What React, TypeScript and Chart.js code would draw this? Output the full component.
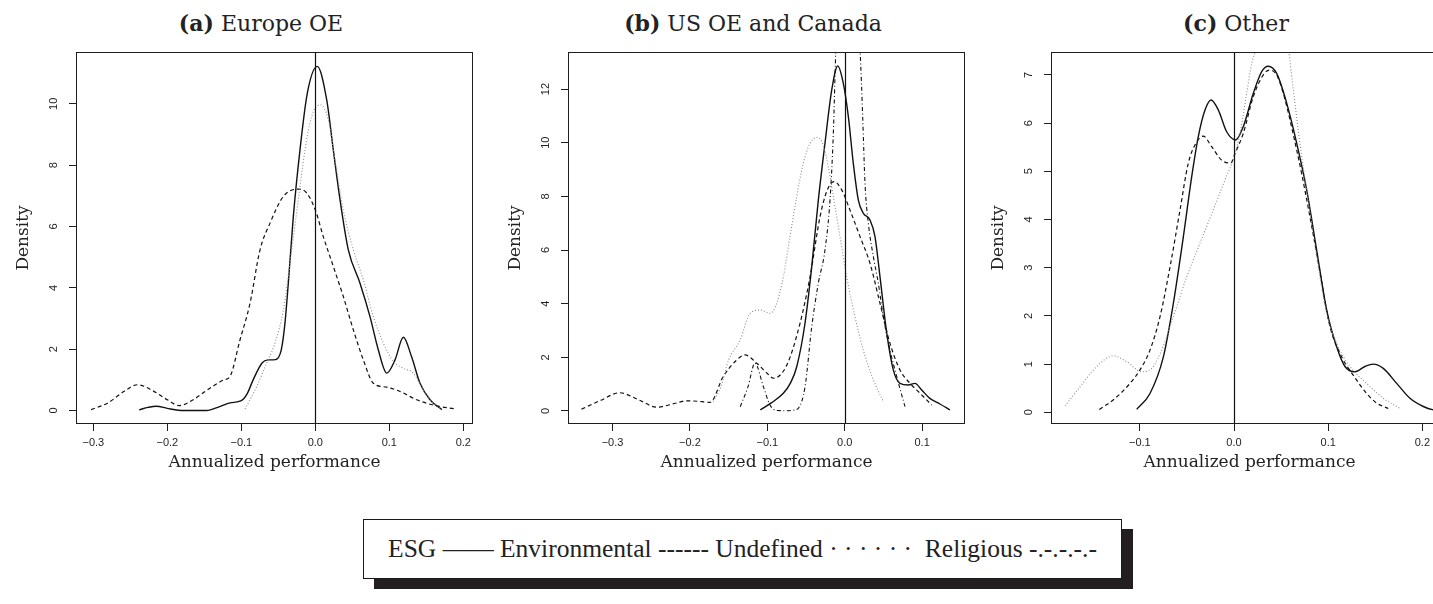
import React, { useEffect, useRef } from "react";
import { Chart, registerables } from "chart.js";

Chart.register(...registerables);

// ---------- tick values ----------
const A_X_TICKS = [-0.3, -0.2, -0.1, 0, 0.1, 0.2];
const A_Y_TICKS = [0, 2, 4, 6, 8, 10];
const B_X_TICKS = [-0.3, -0.2, -0.1, 0, 0.1];
const B_Y_TICKS = [0, 2, 4, 6, 8, 10, 12];
const C_X_TICKS = [-0.1, 0, 0.1, 0.2];
const C_Y_TICKS = [0, 1, 2, 3, 4, 5, 6, 7];

const REF_X = 0; // vertical reference line

// ---------- (a) Europe OE ----------
const A_ESG_X = [-0.238, -0.226, -0.215, -0.2, -0.185, -0.165, -0.147, -0.13, -0.115, -0.1, -0.092, -0.084, -0.072, -0.064, -0.054, -0.046, -0.041, -0.0365, -0.0297, -0.0207, -0.0108, 0.0027, 0.0154, 0.0243, 0.0334, 0.0446, 0.0604, 0.0739, 0.0851, 0.0965, 0.1077, 0.119, 0.13, 0.1415, 0.155, 0.171];
const A_ESG_Y = [0.02, 0.1, 0.14, 0.07, 0.01, 0.0, 0.0, 0.12, 0.25, 0.32, 0.55, 1.0, 1.55, 1.65, 1.66, 1.98, 2.85, 4.15, 6.33, 8.5, 10.35, 11.22, 10.13, 8.5, 6.87, 5.24, 4.15, 3.06, 1.98, 1.22, 1.65, 2.39, 1.76, 0.89, 0.35, 0.03];
const A_ENV_X = [-0.303, -0.28, -0.26, -0.24, -0.22, -0.2, -0.184, -0.165, -0.149, -0.1234, -0.1153, -0.1018, -0.0882, -0.0747, -0.0612, -0.0432, -0.023, -0.0116, 0.0, 0.0108, 0.0243, 0.0378, 0.0514, 0.0649, 0.0784, 0.0965, 0.1145, 0.137, 0.164, 0.19];
const A_ENV_Y = [0.03, 0.25, 0.6, 0.84, 0.65, 0.35, 0.16, 0.35, 0.62, 1.0, 1.11, 2.3, 3.5, 5.24, 6.11, 6.98, 7.22, 7.09, 6.54, 5.67, 4.7, 3.72, 2.63, 1.65, 0.89, 0.76, 0.62, 0.35, 0.15, 0.05];
const A_UND_X = [-0.095, -0.0793, -0.0657, -0.0545, -0.0432, -0.0319, -0.023, -0.0139, -0.0049, 0.0064, 0.0176, 0.0266, 0.0378, 0.0514, 0.0649, 0.0784, 0.0919, 0.1054, 0.1189, 0.1324, 0.146, 0.1595, 0.171];
const A_UND_Y = [0.05, 0.78, 1.55, 2.2, 3.28, 5.24, 6.87, 8.5, 9.59, 9.97, 9.48, 8.17, 6.54, 5.24, 4.26, 3.06, 2.2, 1.6, 1.38, 1.22, 0.67, 0.24, 0.06];

// ---------- (b) US OE and Canada ----------
const B_ESG_X = [-0.109, -0.095, -0.0793, -0.07, -0.062, -0.0513, -0.0426, -0.0341, -0.0255, -0.0168, -0.009, -0.0018, 0.0047, 0.0111, 0.0176, 0.024, 0.0327, 0.0391, 0.0456, 0.0543, 0.0628, 0.0714, 0.0822, 0.0908, 0.0995, 0.11, 0.123, 0.136];
const B_ESG_Y = [0.04, 0.3, 0.66, 1.05, 1.65, 3.27, 5.38, 7.86, 9.98, 11.96, 12.86, 12.21, 10.97, 9.23, 7.86, 7.37, 7.12, 6.5, 5.0, 2.9, 1.53, 1.03, 0.97, 1.03, 0.78, 0.47, 0.26, 0.04];
const B_ENV_X = [-0.34, -0.315, -0.291, -0.265, -0.243, -0.22, -0.204, -0.185, -0.174, -0.157, -0.1395, -0.1288, -0.1137, -0.1, -0.0922, -0.075, -0.0577, -0.0448, -0.0319, -0.0225, -0.0138, -0.0039, 0.0068, 0.0198, 0.0327, 0.0456, 0.0585, 0.0714, 0.0843, 0.0973, 0.1124];
const B_ENV_Y = [0.07, 0.4, 0.68, 0.4, 0.14, 0.28, 0.38, 0.35, 0.32, 1.28, 1.9, 2.09, 1.78, 1.4, 1.22, 1.7, 3.27, 5.0, 7.24, 8.24, 8.55, 8.24, 7.49, 6.5, 5.5, 4.01, 2.52, 1.53, 1.03, 0.66, 0.22];
const B_UND_X = [-0.17, -0.16, -0.15, -0.135, -0.1223, -0.109, -0.0965, -0.0879, -0.0793, -0.0707, -0.062, -0.0535, -0.0448, -0.0354, -0.0276, -0.0212, -0.0147, -0.0061, 0.0026, 0.0133, 0.024, 0.037, 0.0499];
const B_UND_Y = [0.35, 0.9, 1.9, 2.65, 3.64, 3.76, 3.64, 4.01, 5.0, 6.5, 7.99, 9.23, 9.98, 10.2, 9.91, 9.1, 7.99, 6.5, 5.0, 3.51, 2.27, 1.16, 0.35];
const B_REL_X = [-0.135, -0.125, -0.116, -0.105, -0.0965, -0.088, -0.075, -0.066, -0.06, -0.0513, -0.0426, -0.0341, -0.0255, -0.019, -0.0147, -0.0116, -0.006, 0.004, 0.014, 0.0198, 0.0232, 0.0262, 0.0305, 0.037, 0.0434, 0.0499, 0.0585, 0.0672, 0.0779];
const B_REL_Y = [0.16, 0.9, 1.78, 0.9, 0.22, 0.02, 0.01, 0.03, 0.1, 0.9, 3.14, 4.76, 6.0, 7.86, 10.35, 13.33, 16.0, 17.5, 15.5, 13.45, 10.97, 8.49, 7.0, 5.75, 4.76, 3.51, 2.27, 1.28, 0.16];

// ---------- (c) Other ----------
const C_ESG_X = [-0.1033, -0.0892, -0.075, -0.0644, -0.0538, -0.0449, -0.0379, -0.0308, -0.0244, -0.0166, -0.0078, 0.0018, 0.0099, 0.0205, 0.0294, 0.0364, 0.0453, 0.056, 0.0666, 0.0772, 0.0878, 0.0984, 0.109, 0.1178, 0.1285, 0.139, 0.1479, 0.1585, 0.1727, 0.1868, 0.201, 0.2116, 0.225];
const C_ESG_Y = [0.06, 0.39, 1.15, 2.26, 3.64, 4.89, 5.72, 6.27, 6.48, 6.27, 5.82, 5.65, 5.93, 6.62, 7.07, 7.18, 7.03, 6.41, 5.58, 4.61, 3.36, 2.12, 1.36, 0.95, 0.84, 0.95, 1.0, 0.91, 0.6, 0.29, 0.12, 0.05, 0.02];
const C_ENV_X = [-0.143, -0.128, -0.1104, -0.0998, -0.0892, -0.0786, -0.0679, -0.0573, -0.0485, -0.0396, -0.0326, -0.0237, -0.0131, -0.0035, 0.0011, 0.0099, 0.0205, 0.0311, 0.0375, 0.047, 0.0666, 0.0878, 0.1019, 0.1143, 0.1266, 0.1408, 0.1515, 0.1638];
const C_ENV_Y = [0.06, 0.26, 0.6, 0.88, 1.29, 1.98, 3.02, 4.2, 5.17, 5.61, 5.73, 5.51, 5.23, 5.17, 5.37, 5.79, 6.55, 7.0, 7.1, 6.93, 5.44, 3.3, 1.78, 1.15, 0.77, 0.39, 0.19, 0.08];
const C_UND_X = [-0.1794, -0.1635, -0.1458, -0.1281, -0.1139, -0.098, -0.0874, -0.0768, -0.0644, -0.0502, -0.0361, -0.022, -0.0096, 0.0, 0.0064, 0.0135, 0.0188, 0.0234, 0.04, 0.0577, 0.063, 0.07, 0.0772, 0.0878, 0.0984, 0.109, 0.1231, 0.1408, 0.1585, 0.1762];
const C_UND_Y = [0.13, 0.53, 0.95, 1.17, 1.05, 0.84, 0.91, 1.29, 1.98, 2.81, 3.51, 4.2, 4.82, 5.3, 5.79, 6.62, 7.24, 7.52, 8.6, 7.52, 6.69, 5.58, 4.61, 3.23, 2.05, 1.43, 0.95, 0.6, 0.29, 0.08];

// ---------- styling ----------
const SANS = '"Liberation Sans", Arial, sans-serif';
const SERIF = '"DejaVu Serif", serif';
const INK = "#1e1e1e";

type LineStyle = "solid" | "dashed" | "dotted" | "dashdot";
const STYLES: Record<LineStyle, any> = {
  solid: { borderColor: "#111", borderWidth: 1.4, borderDash: [] },
  dashed: { borderColor: "#111", borderWidth: 1.2, borderDash: [4, 3] },
  dotted: { borderColor: "#8c8c8c", borderWidth: 1.1, borderDash: [1, 2] },
  dashdot: { borderColor: "#111", borderWidth: 1.1, borderDash: [4, 2.5, 1, 2.5] },
};

type Series = { xs: number[]; ys: number[]; style: LineStyle };
type PanelCfg = {
  canvasLeft: number;
  xMin: number;
  xMax: number;
  yMin: number;
  yMax: number;
  xTicks: number[];
  yTicks: number[];
  series: Series[];
};

const CANVAS_W = 490;
const CANVAS_H = 440;
const CANVAS_TOP = 40;

const PANELS: PanelCfg[] = [
  {
    canvasLeft: 0,
    xMin: -0.3234, xMax: 0.2131, yMin: -0.44, yMax: 11.69,
    xTicks: A_X_TICKS, yTicks: A_Y_TICKS,
    series: [
      { xs: A_UND_X, ys: A_UND_Y, style: "dotted" },
      { xs: A_ENV_X, ys: A_ENV_Y, style: "dashed" },
      { xs: A_ESG_X, ys: A_ESG_Y, style: "solid" },
    ],
  },
  {
    canvasLeft: 492,
    xMin: -0.3575, xMax: 0.1554, yMin: -0.485, yMax: 13.38,
    xTicks: B_X_TICKS, yTicks: B_Y_TICKS,
    series: [
      { xs: B_UND_X, ys: B_UND_Y, style: "dotted" },
      { xs: B_REL_X, ys: B_REL_Y, style: "dashdot" },
      { xs: B_ENV_X, ys: B_ENV_Y, style: "dashed" },
      { xs: B_ESG_X, ys: B_ESG_Y, style: "solid" },
    ],
  },
  {
    canvasLeft: 975,
    xMin: -0.1943, xMax: 0.2272, yMin: -0.243, yMax: 7.475,
    xTicks: C_X_TICKS, yTicks: C_Y_TICKS,
    series: [
      { xs: C_UND_X, ys: C_UND_Y, style: "dotted" },
      { xs: C_ENV_X, ys: C_ENV_Y, style: "dashed" },
      { xs: C_ESG_X, ys: C_ESG_Y, style: "solid" },
    ],
  },
];

const TITLES = [
  { tag: "(a)", text: "Europe OE", center: 261 },
  { tag: "(b)", text: "US OE and Canada", center: 753 },
  { tag: "(c)", text: "Other", center: 1236 },
];

function fmtX(v: number) {
  if (Math.abs(v) < 1e-9) return "0.0";
  return (v < 0 ? "\u2212" : "") + Math.abs(v).toFixed(1);
}

const framePlugin = {
  id: "frame",
  afterDatasetsDraw(chart: any) {
    const { ctx, chartArea } = chart;
    const xs = chart.scales.x;
    const px = Math.round(xs.getPixelForValue(REF_X)) + 0.5;
    ctx.save();
    ctx.strokeStyle = "#111";
    ctx.lineWidth = 1.2;
    ctx.beginPath();
    ctx.moveTo(px, chartArea.top);
    ctx.lineTo(px, chartArea.bottom);
    ctx.stroke();
    ctx.restore();
  },
  afterDraw(chart: any) {
    const { ctx, chartArea } = chart;
    ctx.save();
    ctx.strokeStyle = INK;
    ctx.lineWidth = 1;
    const l = Math.round(chartArea.left) + 0.5;
    const t = Math.round(chartArea.top) + 0.5;
    const r = Math.round(chartArea.right) - 0.5;
    const b = Math.round(chartArea.bottom) - 0.5;
    ctx.strokeRect(l, t, r - l, b - t);
    // rotated y tick labels (R style, parallel to the axis)
    const ys = chart.scales.y;
    ctx.fillStyle = INK;
    ctx.font = `11px ${SANS}`;
    ctx.textAlign = "center";
    ctx.textBaseline = "middle";
    for (const tk of ys.ticks) {
      const py = ys.getPixelForValue(tk.value);
      ctx.save();
      ctx.translate(chartArea.left - 22, py);
      ctx.rotate(-Math.PI / 2);
      ctx.fillText(String(tk.value), 0, 0);
      ctx.restore();
    }
    ctx.restore();
  },
};

function Panel({ cfg }: { cfg: PanelCfg }) {
  const ref = useRef<HTMLCanvasElement | null>(null);
  useEffect(() => {
    const canvas = ref.current;
    if (!canvas) return;
    const chart = new Chart(canvas, {
      type: "line",
      data: {
        datasets: cfg.series.map((s) => ({
          data: s.xs.map((x, i) => ({ x, y: s.ys[i] })),
          ...STYLES[s.style],
          pointRadius: 0,
          fill: false,
          cubicInterpolationMode: "monotone",
        })),
      },
      options: {
        animation: false,
        responsive: false,
        maintainAspectRatio: false,
        events: [],
        layout: { padding: { top: 12, right: 17, bottom: 0, left: 0 } },
        plugins: {
          legend: { display: false },
          tooltip: { enabled: false },
          title: { display: false },
        },
        scales: {
          x: {
            type: "linear",
            min: cfg.xMin,
            max: cfg.xMax,
            afterBuildTicks: (s: any) => {
              s.ticks = cfg.xTicks.map((v) => ({ value: v }));
            },
            afterFit: (s: any) => {
              s.height = 56;
            },
            ticks: {
              callback: (v: any) => fmtX(Number(v)),
              font: { family: SANS, size: 11 },
              color: INK,
              padding: 5,
              maxRotation: 0,
              autoSkip: false,
            },
            grid: {
              drawOnChartArea: false,
              drawTicks: true,
              tickLength: 7,
              color: INK,
              lineWidth: 1,
            },
            border: { display: false },
            title: {
              display: true,
              text: "Annualized performance",
              font: { family: SERIF, size: 17 },
              color: "#222",
              padding: { top: 0, bottom: 7 },
            },
          },
          y: {
            type: "linear",
            min: cfg.yMin,
            max: cfg.yMax,
            afterBuildTicks: (s: any) => {
              s.ticks = cfg.yTicks.map((v) => ({ value: v }));
            },
            afterFit: (s: any) => {
              s.width = 76;
            },
            ticks: { display: false },
            grid: {
              drawOnChartArea: false,
              drawTicks: true,
              tickLength: 7,
              color: INK,
              lineWidth: 1,
            },
            border: { display: false },
            title: {
              display: true,
              text: "Density",
              font: { family: SERIF, size: 17 },
              color: "#222",
              padding: { top: 13, bottom: 0 },
            },
          },
        },
      } as any,
      plugins: [framePlugin],
    });
    return () => chart.destroy();
  }, [cfg]);
  return (
    <canvas
      ref={ref}
      width={CANVAS_W}
      height={CANVAS_H}
      style={{
        position: "absolute",
        left: cfg.canvasLeft,
        top: CANVAS_TOP,
        width: CANVAS_W,
        height: CANVAS_H,
      }}
    />
  );
}

export default function App() {
  return (
    <div
      style={{
        position: "fixed",
        left: 0,
        top: 0,
        width: 1433,
        height: 604,
        overflow: "hidden",
        background: "#fff",
      }}
    >
      {TITLES.map((t) => (
        <div
          key={t.tag}
          style={{
            position: "absolute",
            left: t.center - 250,
            width: 500,
            top: 9,
            lineHeight: "28px",
            textAlign: "center",
            fontFamily: SERIF,
            fontSize: 22,
            color: "#222",
            whiteSpace: "nowrap",
          }}
        >
          <span style={{ fontWeight: "bold" }}>{t.tag}</span> {t.text}
        </div>
      ))}
      {PANELS.map((p, i) => (
        <Panel key={i} cfg={p} />
      ))}
      <div
        style={{
          position: "absolute",
          left: 363,
          top: 519,
          width: 759,
          height: 60,
          boxSizing: "border-box",
          border: "1.5px solid #1a1a1a",
          background: "#fff",
          boxShadow: "11px 10px 0 #231f20",
          display: "flex",
          alignItems: "center",
          justifyContent: "center",
          fontFamily: '"Liberation Serif", serif',
          fontSize: 25.5,
          color: "#222",
          whiteSpace: "pre",
        }}
      >
        {"ESG \u2014\u2014 Environmental ------ Undefined \u00b7 \u00b7 \u00b7 \u00b7 \u00b7 \u00b7  Religious -.-.-.-.-"}
      </div>
    </div>
  );
}
